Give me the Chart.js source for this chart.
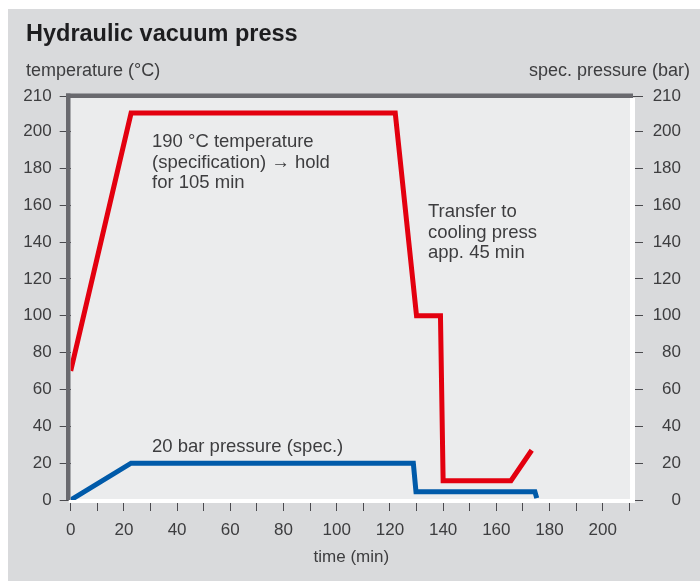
<!DOCTYPE html>
<html>
<head>
<meta charset="utf-8">
<title>Hydraulic vacuum press</title>
<script src="https://cdn.jsdelivr.net/npm/chart.js@4.4.1/dist/chart.umd.min.js"></script>
<style>
  html, body { margin: 0; padding: 0; background: #fff; }
  #wrap { width: 700px; height: 581px; }
</style>
</head>
<body>
<div id="wrap"><canvas id="pressChart" width="700" height="581"></canvas></div>
<script>
// temperature curve (°C over minutes)
const tempTime   = [0, 22.7, 122, 130, 139, 140, 165.5, 173.3];
const tempValues = [70, 210, 210, 100, 100, 10.5, 10.5, 27];

// pressure curve (bar over minutes)
const pressTime   = [0, 22.7, 128.8, 129.8, 174.5, 175.2];
const pressValues = [0, 20, 20, 4.5, 4.5, 1];

// axis ticks
const xTickValues = [0, 10, 20, 30, 40, 50, 60, 70, 80, 90, 100, 110, 120, 130, 140, 150, 160, 170, 180, 190, 200, 210];
const xTickLabels = ['0', '', '20', '', '40', '', '60', '', '80', '', '100', '', '120', '', '140', '', '160', '', '180', '', '200', ''];
const yTickValues = [0, 20, 40, 60, 80, 100, 120, 140, 160, 180, 200, 219];
const yTickLabels = ['0', '20', '40', '60', '80', '100', '120', '140', '160', '180', '200', '210'];

const FONT = '"Liberation Sans", Arial, sans-serif';
const TEXT = '#3d3d3f';
const AXIS = '#69696e';

function toPoints(xs, ys) {
    return xs.map((x, i) => ({ x: x, y: ys[i] }));
}

function setTicks(values) {
    return scale => { scale.ticks = values.map(v => ({ value: v })); };
}

// background panel, plot frame and the text labels
const frame = {
    id: 'frame',
    beforeDraw(chart) {
        const { ctx, chartArea: a } = chart;
        ctx.save();
        ctx.fillStyle = '#ffffff';
        ctx.fillRect(0, 0, chart.width, chart.height);
        ctx.fillStyle = '#d9dadc';
        ctx.fillRect(8, 9, chart.width - 8, chart.height - 9);
        ctx.fillStyle = '#ebeced';
        ctx.fillRect(a.left - 1, a.top, a.right - a.left + 1, a.bottom - a.top);

        ctx.fillStyle = '#1d1d1f';
        ctx.font = 'bold 23.5px ' + FONT;
        ctx.textBaseline = 'alphabetic';
        ctx.textAlign = 'left';
        ctx.fillText('Hydraulic vacuum press', 26, 41);

        ctx.fillStyle = TEXT;
        ctx.font = '18px ' + FONT;
        ctx.fillText('temperature (°C)', 26, 76);
        ctx.textAlign = 'right';
        ctx.fillText('spec. pressure (bar)', 690, 76);
        ctx.restore();
    },
    beforeDatasetsDraw(chart) {
        const { ctx, chartArea: a } = chart;
        ctx.save();
        ctx.fillStyle = '#ffffff';
        ctx.fillRect(a.right - 2, a.top + 1.5, 5, a.bottom - a.top + 1.5);
        ctx.fillRect(a.left - 2, a.bottom - 1, a.right - a.left + 5, 4);
        ctx.fillStyle = AXIS;
        ctx.fillRect(a.left - 4.7, a.top - 3, a.right - a.left + 5.7, 4.5);
        ctx.fillRect(a.left - 4.7, a.top - 3, 4.5, a.bottom - a.top + 3);
        ctx.restore();
    },
    afterDatasetsDraw(chart) {
        const ctx = chart.ctx;
        ctx.save();
        ctx.fillStyle = TEXT;
        ctx.font = '18.5px ' + FONT;
        ctx.textAlign = 'left';
        ctx.textBaseline = 'alphabetic';
        ctx.fillText('190 °C temperature', 152, 146.5);
        ctx.fillText('(specification) → hold', 152, 167.5);
        ctx.fillText('for 105 min', 152, 188);
        ctx.fillText('Transfer to', 428, 216.5);
        ctx.fillText('cooling press', 428, 237.5);
        ctx.fillText('app. 45 min', 428, 258);
        ctx.fillText('20 bar pressure (spec.)', 152, 451.5);
        ctx.restore();
    }
};

const tickFont = { family: FONT, size: 17 };
const tickGrid = { drawOnChartArea: false, drawTicks: true, tickLength: 11, tickColor: '#4a4a4e', tickWidth: 1 };

const pressChart = new Chart(document.getElementById('pressChart').getContext('2d'), {
    type: 'line',
    data: {
        datasets: [{
            label: 'temperature (°C)',
            data: toPoints(tempTime, tempValues),
            borderColor: '#e3000f',
            borderWidth: 5,
            borderJoinStyle: 'miter',
            pointRadius: 0,
            tension: 0,
            fill: false,
            yAxisID: 'y'
        }, {
            label: 'spec. pressure (bar)',
            data: toPoints(pressTime, pressValues),
            borderColor: '#005aa9',
            borderWidth: 5,
            borderJoinStyle: 'miter',
            pointRadius: 0,
            tension: 0,
            fill: false,
            yAxisID: 'y2'
        }]
    },
    options: {
        responsive: false,
        animation: false,
        layout: { padding: { top: 96.5, right: 19, bottom: 0, left: 0 } },
        plugins: { legend: { display: false }, tooltip: { enabled: false } },
        scales: {
            x: {
                type: 'linear',
                min: 0,
                max: 211,
                afterBuildTicks: setTicks(xTickValues),
                afterFit: scale => { scale.height = 81; },
                border: { display: false },
                grid: tickGrid,
                ticks: {
                    autoSkip: false,
                    maxRotation: 0,
                    padding: 9,
                    color: TEXT,
                    font: tickFont,
                    callback: (v, i) => xTickLabels[i]
                },
                title: {
                    display: true,
                    text: 'time (min)',
                    color: TEXT,
                    font: { family: FONT, size: 17 },
                    padding: { top: 0, bottom: 13 }
                }
            },
            y: {
                position: 'left',
                min: 0,
                max: 219,
                afterBuildTicks: setTicks(yTickValues),
                afterFit: scale => { scale.width = 70.7; },
                border: { display: false },
                grid: tickGrid,
                ticks: { padding: 8, color: TEXT, font: tickFont, callback: (v, i) => yTickLabels[i] }
            },
            y2: {
                position: 'right',
                min: 0,
                max: 219,
                afterBuildTicks: setTicks(yTickValues),
                afterFit: scale => { scale.width = 49; },
                border: { display: false },
                grid: tickGrid,
                ticks: { crossAlign: 'far', padding: 8, color: TEXT, font: tickFont, callback: (v, i) => yTickLabels[i] }
            }
        }
    },
    plugins: [frame]
});
</script>
</body>
</html>
